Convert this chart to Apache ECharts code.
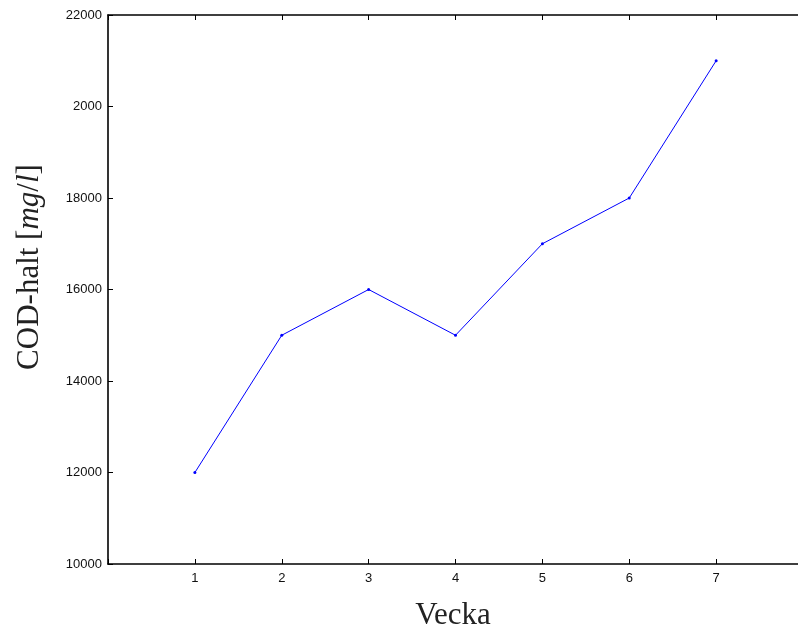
<!DOCTYPE html>
<html>
<head>
<meta charset="utf-8">
<script src="https://cdn.jsdelivr.net/npm/echarts@6/dist/echarts.min.js"></script>
<style>
  html, body { margin: 0; padding: 0; background: #fff; overflow: hidden; }
  #chart { width: 806px; height: 633px; }
</style>
</head>
<body>
<div id="chart"></div>
<script>
// Weekly COD concentration measurements
const weeks = [1, 2, 3, 4, 5, 6, 7];
const codValues = [12000, 15000, 16000, 15000, 17000, 18000, 21000];
const xTickLabels = ['1', '2', '3', '4', '5', '6', '7'];
const yTickValues = [10000, 12000, 14000, 16000, 18000, 20000, 22000];
const yTickLabels = ['10000', '12000', '14000', '16000', '18000', '2000', '22000'];

const chart = echarts.init(document.getElementById('chart'), null, { renderer: 'canvas' });

const frameLine = { show: true, onZero: false, lineStyle: { color: '#000', width: 1.6 } };
const innerTick = { show: true, inside: true, length: 5, lineStyle: { color: '#000', width: 1 } };
const labelFont = { fontFamily: 'Liberation Sans, Arial, sans-serif', fontSize: 13, color: '#111' };
const titleFamily = '"Liberation Serif", "DejaVu Serif", serif';

chart.setOption({
  animation: false,
  backgroundColor: '#fff',
  grid: { left: 108, right: 2, top: 15, bottom: 69 },
  xAxis: [
    {
      type: 'value', min: 0, max: 8, interval: 1, position: 'bottom',
      axisLine: frameLine, axisTick: innerTick, splitLine: { show: false },
      axisLabel: Object.assign({
        margin: 8,
        formatter: v => { const i = weeks.indexOf(v); return i >= 0 ? xTickLabels[i] : ''; }
      }, labelFont)
    },
    {
      type: 'value', min: 0, max: 8, interval: 1, position: 'top',
      axisLine: frameLine, axisTick: innerTick, splitLine: { show: false },
      axisLabel: { show: false }
    }
  ],
  yAxis: [
    {
      type: 'value', min: 10000, max: 22000, interval: 2000, position: 'left',
      axisLine: frameLine, axisTick: innerTick, splitLine: { show: false },
      axisLabel: Object.assign({
        margin: 6,
        formatter: v => { const i = yTickValues.indexOf(v); return i >= 0 ? yTickLabels[i] : ''; }
      }, labelFont)
    },
    {
      type: 'value', min: 10000, max: 22000, interval: 2000, position: 'right',
      axisLine: frameLine, axisTick: innerTick, splitLine: { show: false },
      axisLabel: { show: false }
    }
  ],
  graphic: [
    {
      type: 'text', x: 453, y: 616,
      style: {
        text: 'Vecka', x: 0, y: 0,
        fontFamily: titleFamily, fontSize: 31,
        fill: '#222', align: 'center', verticalAlign: 'middle'
      },
      silent: true
    },
    {
      type: 'text', x: 30, y: 267, rotation: Math.PI / 2,
      style: {
        text: '{n|COD-halt [}{i|mg}{n|/}{i|l}{n|]}',
        align: 'center', verticalAlign: 'middle', fill: '#222',
        rich: {
          n: { fontFamily: titleFamily, fontSize: 31, fill: '#222' },
          i: { fontFamily: titleFamily, fontStyle: 'italic', fontSize: 31, fill: '#222' }
        }
      },
      silent: true
    }
  ],
  series: [
    {
      type: 'line', xAxisIndex: 0, yAxisIndex: 0,
      data: weeks.map((w, i) => [w, codValues[i]]),
      symbol: 'circle', symbolSize: 3, showSymbol: true,
      lineStyle: { color: '#0000ff', width: 1 },
      itemStyle: { color: '#0000ff' }
    }
  ]
});
</script>
</body>
</html>
